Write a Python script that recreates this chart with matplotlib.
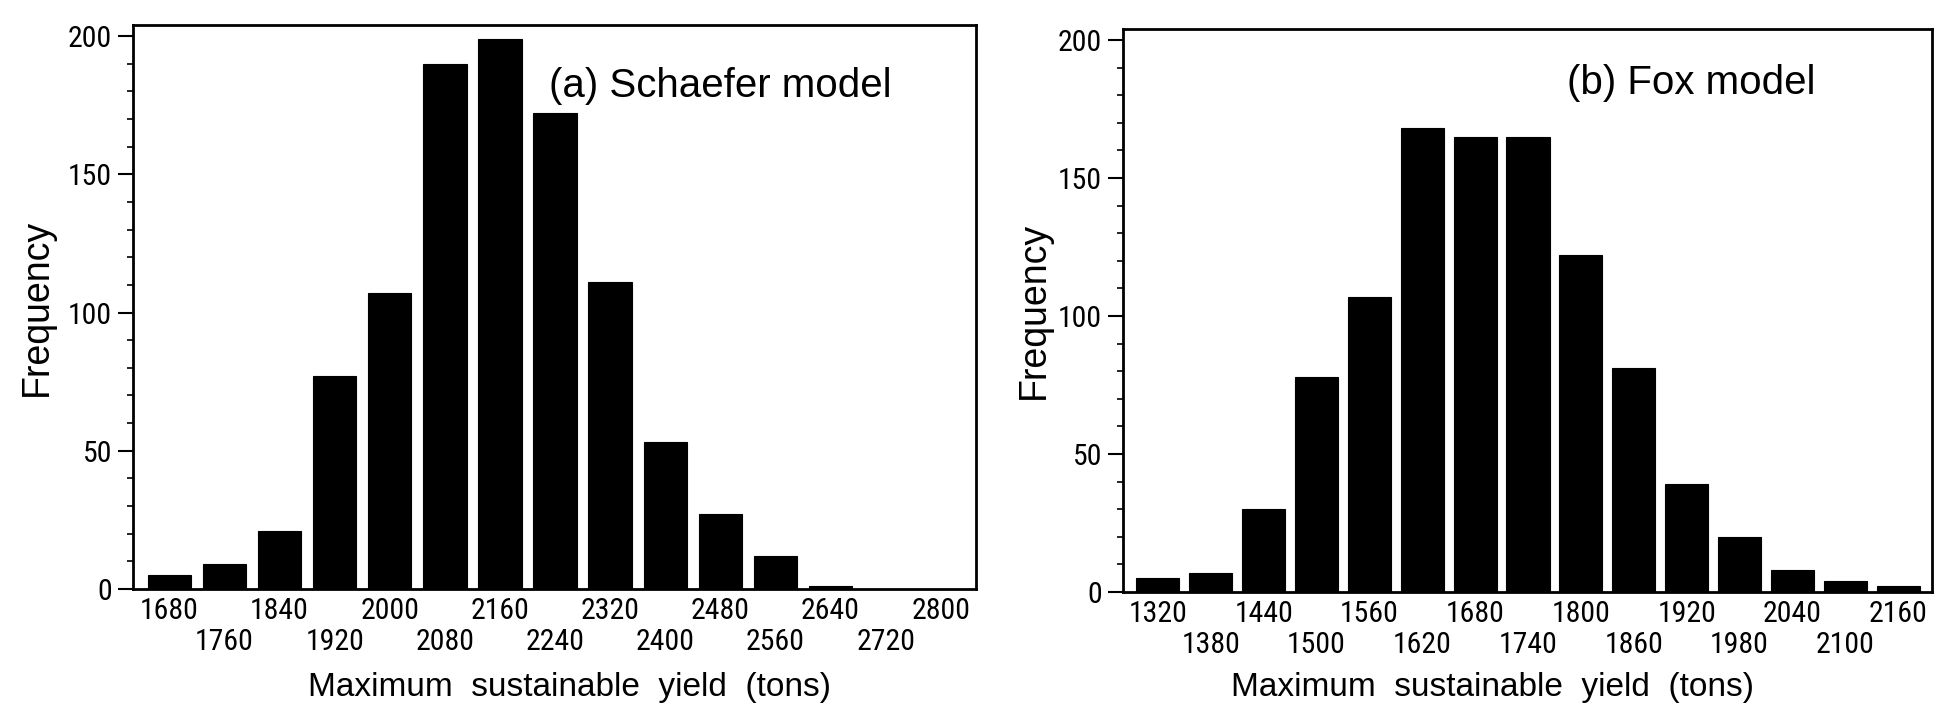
import matplotlib
matplotlib.use("Agg")
import matplotlib.pyplot as plt
from matplotlib.ticker import MultipleLocator

# bin centres (tons) and counts
schaefer_bins = [1680, 1760, 1840, 1920, 2000, 2080, 2160, 2240,
                 2320, 2400, 2480, 2560, 2640, 2720, 2800]
schaefer_freq = [5, 9, 21, 77, 107, 190, 199, 172, 111, 53, 27, 12, 1, 0, 0]

fox_bins = [1320, 1380, 1440, 1500, 1560, 1620, 1680, 1740,
            1800, 1860, 1920, 1980, 2040, 2100, 2160]
fox_freq = [5, 7, 30, 78, 107, 168, 165, 165, 122, 81, 39, 20, 8, 4, 2]

yticks = [0, 50, 100, 150, 200]
xlabel = "Maximum  sustainable  yield  (tons)"
ylabel = "Frequency"
titles = ["(a) Schaefer model", "(b) Fox model"]

narrow = ["Roboto Condensed", "DejaVu Sans"]
sans = ["Liberation Sans", "DejaVu Sans"]

W, H = 1934, 708
fig = plt.figure(figsize=(W / 100, H / 100), dpi=100)

# axes boxes in pixels: left, right, y of zero line, top
boxes = [(133, 976, 589, 25), (1123, 1932, 592, 29)]
panels = [(schaefer_bins, schaefer_freq, 80, 63, 0.493, 0.892, -0.114, 0.518, -0.174),
          (fox_bins, fox_freq, 60, 49, 0.549, 0.904, -0.110, 0.457, -0.169)]

for (l, r, b, t), (bins, freq, step, bw, tx, ty, ylx, xlx, xly), title in zip(boxes, panels, titles):
    ax = fig.add_axes([l / W, 1 - b / H, (r - l) / W, (b - t) / H])
    ax.bar(bins, freq, width=bw, color="black", edgecolor="black", linewidth=0.8)
    ax.set_xlim(bins[0] - 0.66 * step, bins[-1] + 0.64 * step)
    ax.set_ylim(0, 204)

    # staggered labels: upper row on major ticks, lower row on minor ticks
    upper = bins[0::2]
    lower = bins[1::2]
    ax.set_xticks(upper)
    ax.set_xticklabels([str(v) for v in upper], family=narrow, fontsize=21.5)
    ax.set_xticks(lower, minor=True)
    ax.set_xticklabels([str(v) for v in lower], minor=True, family=narrow, fontsize=21.5)
    ax.tick_params(axis="x", which="major", length=0, pad=6)
    ax.tick_params(axis="x", which="minor", length=0, pad=28)

    ax.set_yticks(yticks)
    ax.set_yticklabels([str(v) for v in yticks], family=narrow, fontsize=21.5)
    ax.yaxis.set_minor_locator(MultipleLocator(10))
    ax.tick_params(axis="y", which="major", length=11, width=1.5, pad=4)
    ax.tick_params(axis="y", which="minor", length=4, width=1.2)

    for s in ax.spines.values():
        s.set_linewidth(2)

    ax.set_ylabel(ylabel, family=sans, fontsize=27)
    ax.yaxis.set_label_coords(ylx, 0.5)
    ax.yaxis.label.set_va("center")
    ax.set_xlabel(xlabel, family=sans, fontsize=24)
    ax.xaxis.set_label_coords(xlx, xly)
    ax.xaxis.label.set_va("center")

    ax.text(tx, ty, title, transform=ax.transAxes, family=sans, fontsize=29,
            ha="left", va="center")

fig.savefig("out.png", dpi=100)
